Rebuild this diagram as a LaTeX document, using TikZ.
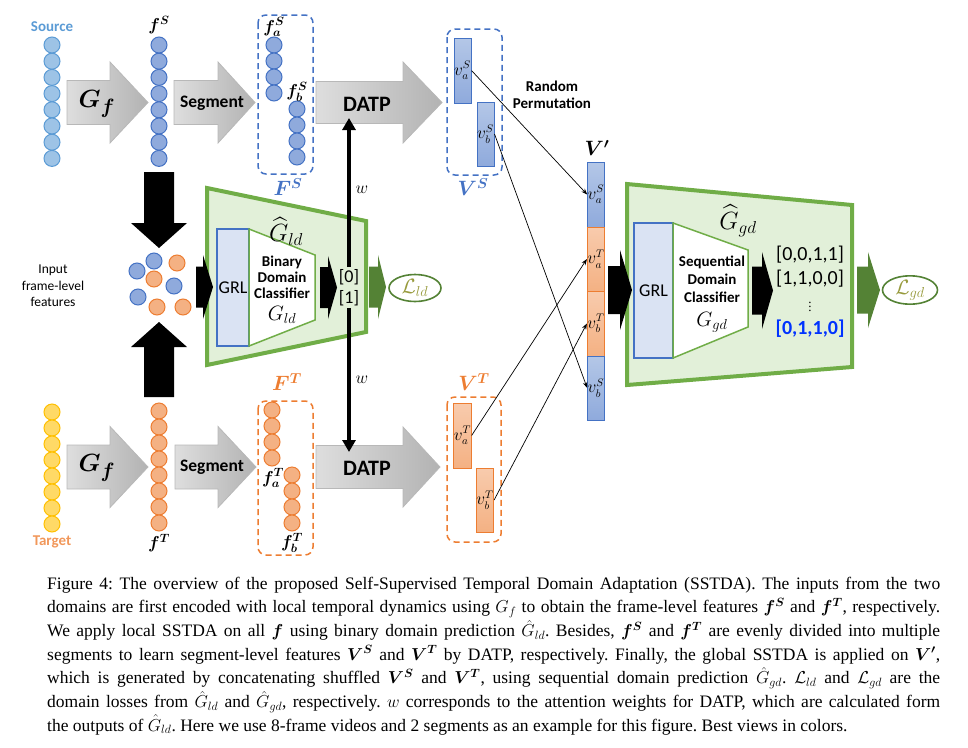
\documentclass[tikz,border=0pt]{standalone}
\usepackage{amsmath, amssymb}
\usepackage{bm}
\usepackage{fontspec}
\setmainfont{Liberation Serif}
\newfontfamily\calib{Carlito}
\usepackage{tikz}
\usetikzlibrary{arrows.meta, shapes.geometric, positioning}

\definecolor{SrcFill}{HTML}{9DC3E6}
\definecolor{SrcLine}{HTML}{5B9BD5}
\definecolor{BlueFill}{HTML}{8FAADC}
\definecolor{BlueTop}{HTML}{B4C7E7}
\definecolor{BlueLine}{HTML}{4472C4}
\definecolor{OrgFill}{HTML}{F4B183}
\definecolor{OrgTop}{HTML}{F8CBAD}
\definecolor{OrgLine}{HTML}{ED7D31}
\definecolor{TgtFill}{HTML}{FFD966}
\definecolor{TgtLine}{HTML}{FFC000}
\definecolor{GreenLine}{HTML}{70AD47}
\definecolor{GreenFill}{HTML}{E2F0D9}
\definecolor{DarkGreen}{HTML}{548235}
\definecolor{GrlFill}{HTML}{DAE3F3}
\definecolor{LossText}{HTML}{979A3C}
\definecolor{ListBlue}{HTML}{0033FF}

% block arrow: style, x start, x neck, x tip, y centre, body half, head half
\newcommand{\blockarrow}[7]{\path[#1] (#2, #5-#6) -- (#3, #5-#6) -- (#3, #5-#7) -- (#4, #5) -- (#3, #5+#7) -- (#3, #5+#6) -- (#2, #5+#6) -- cycle;}
\newcommand{\fsz}[1]{\fontsize{#1}{#1}\selectfont}

\begin{document}
\begin{tikzpicture}[x=1pt, y=-1pt,
    dot/.style={circle, minimum size=16pt, inner sep=0pt, line width=1pt},
    srcdot/.style={dot, fill=SrcFill, draw=SrcLine},
    bluedot/.style={dot, fill=BlueFill, draw=BlueLine},
    orgdot/.style={dot, fill=OrgFill, draw=OrgLine},
    tgtdot/.style={dot, fill=TgtFill, draw=TgtLine},
    grayarrow/.style={left color=black!13, right color=black!30, draw=black!28, line width=0.8pt},
    blackarrow/.style={fill=black},
    greenarrow/.style={fill=DarkGreen},
    bluebox/.style={draw=BlueLine, dash pattern=on 6pt off 4pt, line width=1.5pt, rounded corners=8pt},
    orgbox/.style={draw=OrgLine, dash pattern=on 6pt off 4pt, line width=1.5pt, rounded corners=8pt},
    bluebar/.style={rectangle, draw=BlueLine, top color=BlueTop, bottom color=BlueFill, line width=1pt, minimum width=17pt, inner sep=0pt, font=\fsz{16}},
    orgbar/.style={rectangle, draw=OrgLine, top color=OrgTop, bottom color=OrgFill, line width=1pt, minimum width=17pt, inner sep=0pt, font=\fsz{16}},
    trap/.style={draw=GreenLine, fill=GreenFill, line width=4pt},
    cls/.style={draw=GreenLine, fill=white, line width=1.5pt},
    grl/.style={rectangle, draw=BlueLine, fill=GrlFill, line width=1.2pt, inner sep=0pt, font=\calib\fsz{18}},
    boldtext/.style={inner sep=0pt, font=\calib\bfseries\fsz{15}, align=center},
    listtext/.style={inner sep=0pt, font=\calib\fsz{20}},
    perm/.style={-{Stealth[length=6pt, width=4.5pt]}, line width=0.7pt},
    warrow/.style={-{Triangle[length=12pt, width=13pt]}, line width=4pt},
    loss/.style={ellipse, draw=DarkGreen, line width=1.6pt, text=LossText, minimum width=52pt, minimum height=27pt, inner sep=0pt, font=\fsz{20}}]
\useasboundingbox (0, 0) rectangle (968, 747);

% feature columns
\foreach \i in {0,...,7} {
    \node[srcdot] at (52, 45+16.2*\i)  (src\i) {};
    \node[bluedot] at (159, 45+16.2*\i) (fs\i) {};
    \node[tgtdot] at (52, 412+16*\i)   (tgt\i) {};
    \node[orgdot] at (159, 411+16*\i)  (ft\i) {};
}
\foreach \i in {0,...,3} {
    \node[bluedot] at (274, 45+16*\i)  (fsa\i) {};
    \node[bluedot] at (297, 109+16*\i) (fsb\i) {};
    \node[orgdot] at (272, 410+16*\i)  (fta\i) {};
    \node[orgdot] at (292, 475+16*\i)  (ftb\i) {};
}
\node[boldtext, text=SrcLine] at (52, 27) (srclab) {Source};
\node[boldtext, text=OrgLine!80] at (52, 542) (tgtlab) {Target};
\node[font=\fsz{18}] at (159, 25) (fslab) {$\bm{f^S}$};
\node[font=\fsz{18}] at (159, 543) (ftlab) {$\bm{f^T}$};
\node[font=\fsz{17}] at (274, 27) (fsalab) {$\bm{f_a^S}$};
\node[font=\fsz{17}] at (297, 92) (fsblab) {$\bm{f_b^S}$};
\node[font=\fsz{17}] at (273, 478) (ftalab) {$\bm{f_a^T}$};
\node[font=\fsz{17}] at (292, 543) (ftblab) {$\bm{f_b^T}$};

% gray arrows
\blockarrow{grayarrow}{67}{110}{148}{102.5}{22}{40.5}
\blockarrow{grayarrow}{174}{218}{255}{102.5}{22}{40.5}
\blockarrow{grayarrow}{316}{403}{442}{102.5}{21}{40.5}
\blockarrow{grayarrow}{67}{110}{148}{467}{22}{40.5}
\blockarrow{grayarrow}{175}{218}{256}{467}{22}{40.5}
\blockarrow{grayarrow}{316}{403}{440}{467}{21.5}{40}
\node[font=\fsz{28}] at (97, 104) (gfs) {$\bm{G_f}$};
\node[font=\fsz{28}] at (97, 468) (gft) {$\bm{G_f}$};
\node[font=\calib\bfseries\fsz{17.5}] at (212, 103) (segs) {Segment};
\node[font=\calib\bfseries\fsz{17.5}] at (212, 467) (segt) {Segment};
\node[font=\calib\bfseries\fsz{22}] at (367, 104) (datps) {DATP};
\node[font=\calib\bfseries\fsz{22}] at (367, 468) (datpt) {DATP};

% segment boxes
\draw[bluebox] (258, 15) rectangle (313, 174);
\draw[orgbox] (258, 401) rectangle (313, 555);
\draw[bluebox] (447, 29) rectangle (502, 175);
\draw[orgbox] (447, 397) rectangle (501, 542);
\node[font=\fsz{22}, text=BlueLine] at (288, 187) (FSlab) {$\bm{F^S}$};
\node[font=\fsz{22}, text=OrgLine] at (287, 382) (FTlab) {$\bm{F^T}$};
\node[font=\fsz{22}, text=BlueLine] at (473, 187) (VSlab) {$\bm{V^S}$};
\node[font=\fsz{22}, text=OrgLine] at (474, 382) (VTlab) {$\bm{V^T}$};

% segment-level features
\node[bluebar, minimum height=65pt] at (462.5, 70.5) (vaS) {$v_a^S$};
\node[bluebar, minimum height=64pt] at (485.5, 134) (vbS) {$v_b^S$};
\node[orgbar, minimum height=65pt] at (462.5, 435.5) (vaT) {$v_a^T$};
\node[orgbar, minimum height=64pt] at (485, 500) (vbT) {$v_b^T$};

% V'
\node[bluebar, minimum width=16pt, minimum height=65pt] at (596, 194.5) (vpaS) {$v_a^S$};
\node[orgbar, minimum width=16pt, minimum height=64pt] at (596, 259) (vpaT) {$v_a^T$};
\node[orgbar, minimum width=16pt, minimum height=65pt] at (596, 323.5) (vpbT) {$v_b^T$};
\node[bluebar, minimum width=16pt, minimum height=64pt] at (596, 388) (vpbS) {$v_b^S$};
\node[font=\fsz{22}] at (597, 148) (vplab) {$\bm{V'}$};
\node[boldtext, font=\calib\bfseries\fontsize{15}{17}\selectfont] at (552, 94.5) (perm) {Random\\Permutation};

\draw[perm] (vaS.east) -- (vpaS.west);
\draw[perm] (vbS.east) -- (vpbS.west);
\draw[perm] (vaT.east) -- (vpaT.west);
\draw[perm] (vbT.east) -- (vpbT.west);

% input frame-level features
\node[font=\calib\fontsize{13.5}{16.5}\selectfont, align=center] at (53, 286) (inlab) {Input\\frame-level\\features};
\node[bluedot] at (137, 271) (mix1) {};
\node[bluedot] at (154, 261) (mix2) {};
\node[bluedot] at (174, 286) (mix3) {};
\node[bluedot] at (138, 297) (mix4) {};
\node[orgdot] at (177, 263) (mix5) {};
\node[orgdot] at (154, 279) (mix6) {};
\node[orgdot] at (157, 307) (mix7) {};
\node[orgdot] at (183, 307) (mix8) {};
\path[blackarrow] (144, 172) -- (174, 172) -- (174, 223) -- (187, 223) -- (159, 248) -- (131, 223) -- (144, 223) -- cycle;
\path[blackarrow] (144, 397) -- (174, 397) -- (174, 347) -- (187, 347) -- (159, 322) -- (131, 347) -- (144, 347) -- cycle;

% local domain classifier
\filldraw[trap] (207, 188) -- (366, 221) -- (366, 332) -- (207, 365) -- cycle;
\node[grl, minimum width=32pt, minimum height=117pt] at (233, 287.5) (grlld) {GRL};
\filldraw[cls] (249, 229) -- (315, 255) -- (315, 320) -- (249, 346) -- cycle;
\node[boldtext, font=\calib\bfseries\fontsize{15}{16}\selectfont] at (282, 277) (binld) {Binary\\Domain\\Classifier};
\node[font=\fsz{20}] at (282, 315) (gld) {$G_{ld}$};
\node[font=\fsz{25}] at (286, 231) (ghatld) {$\widehat{G}_{ld}$};
\blockarrow{blackarrow}{196}{203}{213}{287}{20.5}{32}
\blockarrow{blackarrow}{320}{328}{337}{287.5}{20.5}{31.5}
\blockarrow{greenarrow}{369}{378}{386}{287}{20.5}{32}
\node[font=\calib\fontsize{18}{21}\selectfont, align=center, inner sep=2pt] at (349, 287.5) (ld01) {[0]\\{}[1]};
\node[loss] at (415, 288) (lld) {$\mathcal{L}_{ld}$};

% attention weights
\coordinate (wtop) at (349, 118);
\coordinate (wbot) at (349, 452);
\draw[warrow] (ld01.north) -- (wtop);
\draw[warrow] (ld01.south) -- (wbot);
\node[font=\fsz{17}] at (362, 190) (wup) {$w$};
\node[font=\fsz{17}] at (362, 380) (wdn) {$w$};

% global domain classifier
\filldraw[trap] (627, 184) -- (852, 205) -- (852, 367) -- (627, 385) -- cycle;
\node[grl, minimum width=39pt, minimum height=135pt] at (653.5, 290.5) (grlgd) {GRL};
\filldraw[cls] (673, 223) -- (748, 250) -- (748, 327) -- (673, 358) -- cycle;
\node[boldtext, font=\calib\bfseries\fontsize{15}{18}\selectfont] at (712, 279) (seqgd) {Sequential\\Domain\\Classifier};
\node[font=\fsz{22}] at (712, 322) (ggd) {$G_{gd}$};
\node[font=\fsz{26}] at (738, 221) (ghatgd) {$\widehat{G}_{gd}$};
\blockarrow{blackarrow}{608}{620}{632}{290}{24}{40}
\blockarrow{blackarrow}{752}{762}{773}{290.5}{24}{38.5}
\blockarrow{greenarrow}{857}{868}{880}{290}{23.5}{38}
\node[listtext] at (810, 255) (seq1) {[0,0,1,1]};
\node[listtext] at (810, 279) (seq2) {[1,1,0,0]};
\node[listtext, font=\fsz{13}] at (810, 304) (seqdots) {$\vdots$};
\node[listtext, text=ListBlue, font=\calib\bfseries\fsz{20}] at (810, 329) (seq4) {[0,1,1,0]};
\node[loss, minimum width=55pt] at (910, 290) (lgd) {$\mathcal{L}_{gd}$};

% caption
\node[anchor=base west, inner sep=0pt, text width=893pt, align=justify, font=\frenchspacing\fontsize{17.5}{23.7}\selectfont] at (47, 589) (caption) {%
Figure 4: The overview of the proposed Self-Supervised Temporal Domain Adaptation (SSTDA). The inputs from the two\linebreak
domains are first encoded with local temporal dynamics using $G_f$ to obtain the frame-level features $\bm{f^S}$ and $\bm{f^T}$, respectively.\linebreak
We apply local SSTDA on all $\bm{f}$ using binary domain prediction $\hat{G}_{ld}$. Besides, $\bm{f^S}$ and $\bm{f^T}$ are evenly divided into multiple\linebreak
segments to learn segment-level features $\bm{V^S}$ and $\bm{V^T}$ by DATP, respectively. Finally, the global SSTDA is applied on $\bm{V'}$,\linebreak
which is generated by concatenating shuffled $\bm{V^S}$ and $\bm{V^T}$, using sequential domain prediction $\hat{G}_{gd}$. $\mathcal{L}_{ld}$ and $\mathcal{L}_{gd}$ are the\linebreak
domain losses from $\hat{G}_{ld}$ and $\hat{G}_{gd}$, respectively. $w$ corresponds to the attention weights for DATP, which are calculated form\linebreak
the outputs of $\hat{G}_{ld}$. Here we use 8-frame videos and 2 segments as an example for this figure. Best views in colors.};
\end{tikzpicture}
\end{document}
